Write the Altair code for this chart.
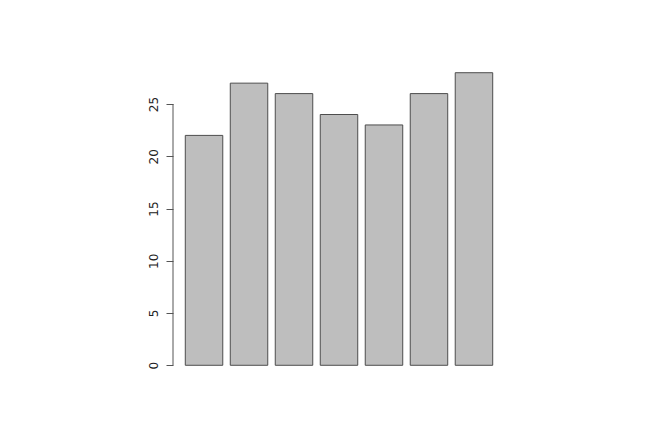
import altair as alt
import pandas as pd

categories = ["A", "B", "C", "D", "E", "F", "G"]
values = [22, 27, 26, 24, 23, 26, 28]
y_ticks = [0, 5, 10, 15, 20, 25]

df = pd.DataFrame({"cat": categories, "val": values})

x_enc = alt.X("cat:N", sort=categories, axis=None,
              scale=alt.Scale(paddingInner=0.1667, paddingOuter=0.273))
y_scale = alt.Scale(domain=[-1.12, 29.12], nice=False, zero=False)

bars = alt.Chart(df).mark_bar(
    fill="#bebebe", stroke="#4d4d4d", strokeWidth=1
).encode(
    x=x_enc,
    y=alt.Y("val:Q", scale=y_scale,
            axis=alt.Axis(values=y_ticks, title=None, grid=False, domain=False,
                          tickColor="#555555", tickSize=7, labelAngle=270,
                          labelAlign="center", labelBaseline="bottom",
                          labelPadding=6, labelFont="DejaVu Sans",
                          labelFontSize=12, labelColor="#222222")),
    y2=alt.datum(0),
)

axis_line = alt.Chart(pd.DataFrame({"lo": [0], "hi": [25]})).mark_rule(
    color="#555555", strokeWidth=1
).encode(
    x=alt.value(0),
    y=alt.Y("lo:Q", scale=y_scale),
    y2="hi:Q",
)

chart = alt.layer(bars, axis_line).properties(
    width=332, height=316,
    padding={"left": 165, "top": 53, "right": 141, "bottom": 60},
    autosize=alt.AutoSizeParams(type="none"),
    background="white",
).configure_view(stroke=None)

chart.save("out.html", embed_options={"renderer": "svg", "actions": False})
